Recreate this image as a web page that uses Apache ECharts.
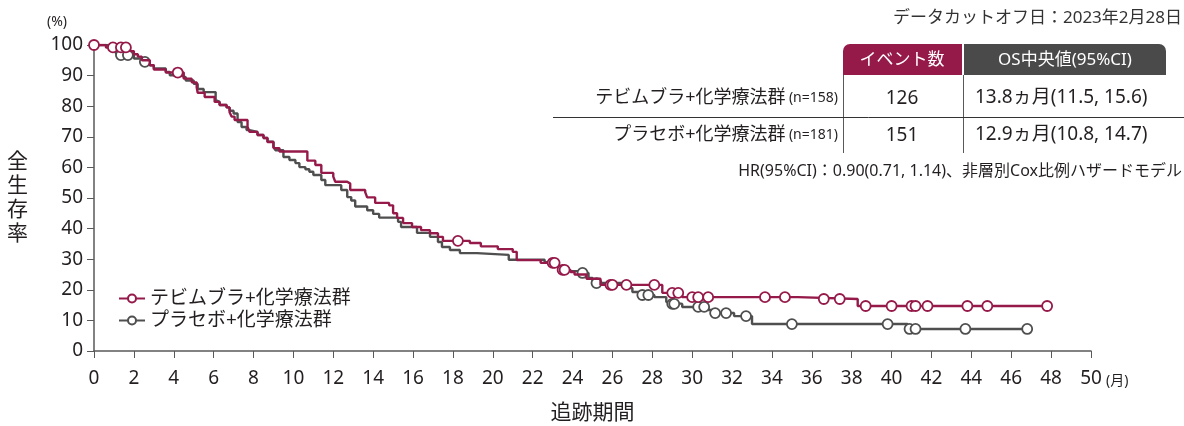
<!DOCTYPE html>
<html><head><meta charset="utf-8">
<script src="https://cdn.jsdelivr.net/npm/echarts@6/dist/echarts.min.js"></script>
<style>html,body{margin:0;padding:0;background:#fff}#c{width:1184px;height:426px}</style>
</head><body><div id="c"></div>
<script>
var seriesNames = ['テビムブラ+化学療法群', 'プラセボ+化学療法群'];
var xTicks = [0, 50, 2];
var yTicks = [0, 100, 10];
var redSteps = [[0,100],[0.6,99.2],[1.8,98.0],[2.0,97.0],[2.2,96.2],[2.4,95.0],[2.8,93.4],[3.0,92.0],[3.6,91.0],[4.5,89.0],[4.9,87.8],[5.15,86.2],[5.2,84.4],[5.55,83.0],[6.05,81.4],[6.3,80.4],[6.65,79.6],[6.8,78.0],[6.9,76.6],[7.05,75.5],[7.7,73.2],[7.8,71.6],[8.2,70.6],[8.5,69.6],[8.7,68.3],[9.0,66.3],[9.3,65.2],[10.7,62.2],[11.1,60.8],[11.4,58.2],[12.0,57.0],[12.1,55.3],[12.7,54.7],[12.85,52.6],[13.6,51.9],[13.7,50.2],[14.1,48.4],[14.8,47.6],[15.0,45.0],[15.2,43.5],[15.5,41.8],[15.95,40.5],[16.4,39.5],[16.85,38.5],[17.25,37.3],[17.5,36.0],[18.85,35.3],[19.4,34.2],[20.25,33.3],[21.0,32.4],[21.2,29.7],[22.4,28.8],[23.3,26.5],[23.9,25.8],[24.1,25.0],[24.7,23.6],[25.4,21.6],[28.5,19.0],[29.5,17.6],[35.3,17.0],[38.3,14.7],[47.8,14.7]];
var redCensor = [[0,100],[0.95,99.2],[1.35,99.2],[1.6,99.2],[4.2,91.0],[18.25,36.0],[23.0,28.8],[23.1,28.8],[23.5,26.5],[23.6,26.5],[25.9,21.6],[26.0,21.6],[26.7,21.6],[28.1,21.6],[29.0,19.0],[29.3,19.0],[30.0,17.6],[30.3,17.6],[30.8,17.6],[33.65,17.6],[34.65,17.6],[36.6,17.0],[37.4,17.0],[38.7,14.7],[40.0,14.7],[41.0,14.7],[41.2,14.7],[41.8,14.7],[43.8,14.7],[44.8,14.7],[47.8,14.7]];
var graySteps = [[0,100],[0.7,99.4],[0.9,98.3],[1.1,97.2],[1.2,96.7],[2.0,95.6],[2.4,94.5],[2.8,93.4],[3.0,92.3],[3.6,91.2],[3.8,90.1],[4.3,89.5],[4.6,88.4],[5.0,87.3],[5.2,85.6],[5.5,84.6],[6.1,82.0],[6.2,81.4],[6.3,80.4],[6.65,79.6],[6.8,78.5],[7.0,77.6],[7.2,74.8],[7.4,73.2],[7.65,72.2],[7.8,71.6],[8.2,70.6],[8.5,69.6],[8.7,68.4],[9.0,66.8],[9.1,65.6],[9.5,63.4],[9.8,62.4],[10.1,61.4],[10.3,60.1],[10.6,59.4],[10.8,58.6],[11.0,57.5],[11.4,55.9],[11.6,54.2],[12.4,52.6],[12.7,50.3],[12.9,49.2],[13.1,47.2],[13.7,46.0],[14.0,44.8],[14.3,43.6],[15.25,42.2],[15.4,40.5],[16.2,38.6],[16.85,37.3],[17.25,35.6],[17.45,34.0],[17.85,33.0],[18.35,32.0],[19.2,31.4],[20.8,29.8],[22.6,29.0],[22.8,28.3],[23.3,27.2],[23.8,26.1],[24.3,25.5],[24.8,23.9],[25.0,22.2],[26.6,20.6],[27.0,19.3],[27.3,18.3],[28.1,17.6],[28.7,16.0],[28.9,15.4],[29.5,14.4],[30.8,13.4],[31.0,12.4],[32.1,11.4],[33.0,8.8],[40.8,7.2],[46.8,7.2]];
var grayCensor = [[1.35,96.7],[1.7,96.7],[2.55,94.5],[24.5,25.5],[25.2,22.2],[27.5,18.3],[27.8,18.3],[29.0,15.4],[29.1,15.4],[30.3,14.4],[30.6,14.4],[31.15,12.4],[31.7,12.4],[32.7,11.4],[35.0,8.8],[39.8,8.8],[40.9,7.2],[41.2,7.2],[43.7,7.2],[46.8,7.2]];
var tableRows = [
  {name: 'テビムブラ+化学療法群', n: '(n=158)', events: '126', os: '13.8ヵ月(11.5, 15.6)'},
  {name: 'プラセボ+化学療法群', n: '(n=181)', events: '151', os: '12.9ヵ月(10.8, 14.7)'}
];
var tableHeaders = ['イベント数', 'OS中央値(95%CI)'];
var cutoffText = 'データカットオフ日：2023年2月28日';
var hrText = 'HR(95%CI)：0.90(0.71, 1.14)、非層別Cox比例ハザードモデル';

var RED = '#951a4a', GRAY = '#4f4f4f', TXT = '#231f20', AX = '#595959';
var FONT = '"Noto Sans", "Noto Sans CJK JP", sans-serif';

var chart = echarts.init(document.getElementById('c'));
var graphic = [
  {type:'text', x: 1182, y: 18, style:{text: cutoffText, font: '17px ' + FONT, fill: '#333', align:'right', verticalAlign:'middle'}},
  {type:'rect', shape:{x:843, y:44, width:119, height:31, r:[7,0,0,0]}, style:{fill: RED}},
  {type:'rect', shape:{x:964, y:44, width:202, height:31, r:[0,7,0,0]}, style:{fill: '#4a4a4a'}},
  {type:'text', x: 902, y: 60, style:{text: tableHeaders[0], font:'17px ' + FONT, fill:'#fff', align:'center', verticalAlign:'middle'}},
  {type:'text', x: 1065, y: 60, style:{text: tableHeaders[1], font:'17px ' + FONT, fill:'#fff', align:'center', verticalAlign:'middle'}},
  {type:'line', shape:{x1:843.5, y1:75, x2:843.5, y2:153}, style:{stroke: AX, lineWidth:1}},
  {type:'line', shape:{x1:963.5, y1:75, x2:963.5, y2:153}, style:{stroke: AX, lineWidth:1}},
  {type:'line', shape:{x1:553, y1:117.5, x2:1184, y2:117.5}, style:{stroke: '#333', lineWidth:1}},
  {type:'text', x: 1182, y: 171, style:{text: hrText, font:'16px ' + FONT, fill: TXT, align:'right', verticalAlign:'middle'}},
  {type:'text', x: 1106, y: 381, style:{text:'(月)', font:'14px ' + FONT, fill: TXT, verticalAlign:'middle'}},
  {type:'text', x: 57, y: 22, style:{text:'(%)', font:'14px ' + FONT, fill: TXT, align:'center', verticalAlign:'middle'}}
];
tableRows.forEach(function(r, i){
  var y = 98 + i * 37;
  graphic.push({type:'text', x: 838, y: y, style:{text: '{a|' + r.name + '} {b|' + r.n + '}', align:'right', verticalAlign:'middle',
    rich:{a:{font:'18px ' + FONT, fill: TXT}, b:{font:'14px ' + FONT, fill: TXT}}}});
  graphic.push({type:'text', x: 902, y: y + 1, style:{text: r.events, font:'19px ' + FONT, fill: TXT, align:'center', verticalAlign:'middle'}});
  graphic.push({type:'text', x: 975, y: y, style:{text: r.os, font:'19px ' + FONT, fill: TXT, verticalAlign:'middle'}});
});

chart.setOption({
  animation: false,
  textStyle: {fontFamily: FONT},
  grid: {left: 94, right: 93, top: 45, bottom: 75, containLabel: false, outerBoundsMode: 'none'},
  legend: {
    data: [{name: seriesNames[0]}, {name: seriesNames[1]}],
    orient: 'vertical', left: 113, top: 284, itemWidth: 26, itemHeight: 10, itemGap: 3,
    textStyle: {fontSize: 19, color: TXT, fontFamily: FONT}
  },
  xAxis: {
    type: 'value', min: xTicks[0], max: xTicks[1], interval: xTicks[2],
    name: '追跡期間', nameLocation: 'middle', nameGap: 52,
    nameTextStyle: {fontSize: 21, color: TXT, fontFamily: FONT},
    axisLine: {lineStyle: {color: AX, width: 1.5}},
    axisTick: {length: 7, lineStyle: {color: AX}},
    axisLabel: {fontSize: 19, color: TXT, margin: 18},
    splitLine: {show: false}
  },
  yAxis: {
    type: 'value', min: yTicks[0], max: yTicks[1], interval: yTicks[2],
    name: '全\n生\n存\n率', nameLocation: 'middle', nameGap: 66, nameRotate: 0,
    nameTextStyle: {fontSize: 21, color: TXT, lineHeight: 24, fontFamily: FONT},
    axisLine: {show: true, lineStyle: {color: AX, width: 1.5}},
    axisTick: {show: true, length: 7, lineStyle: {color: AX}},
    axisLabel: {fontSize: 19, color: TXT, margin: 11},
    splitLine: {show: false}
  },
  graphic: graphic,
  series: [
    {name: seriesNames[1], type: 'line', step: 'end', data: graySteps, showSymbol: false, symbol: 'emptyCircle', symbolSize: 8,
      lineStyle: {color: GRAY, width: 2.4}, itemStyle: {color: GRAY}, z: 2},
    {name: 'gray-censor', type: 'scatter', data: grayCensor, symbol: 'circle', symbolSize: 10,
      itemStyle: {color: '#fff', opacity: 1, borderColor: GRAY, borderWidth: 1.8}, z: 3},
    {name: seriesNames[0], type: 'line', step: 'end', data: redSteps, showSymbol: false, symbol: 'emptyCircle', symbolSize: 8,
      lineStyle: {color: RED, width: 2.4}, itemStyle: {color: RED}, z: 4},
    {name: 'red-censor', type: 'scatter', data: redCensor, symbol: 'circle', symbolSize: 10,
      itemStyle: {color: '#fff', opacity: 1, borderColor: RED, borderWidth: 1.8}, z: 5}
  ]
});
</script></body></html>
